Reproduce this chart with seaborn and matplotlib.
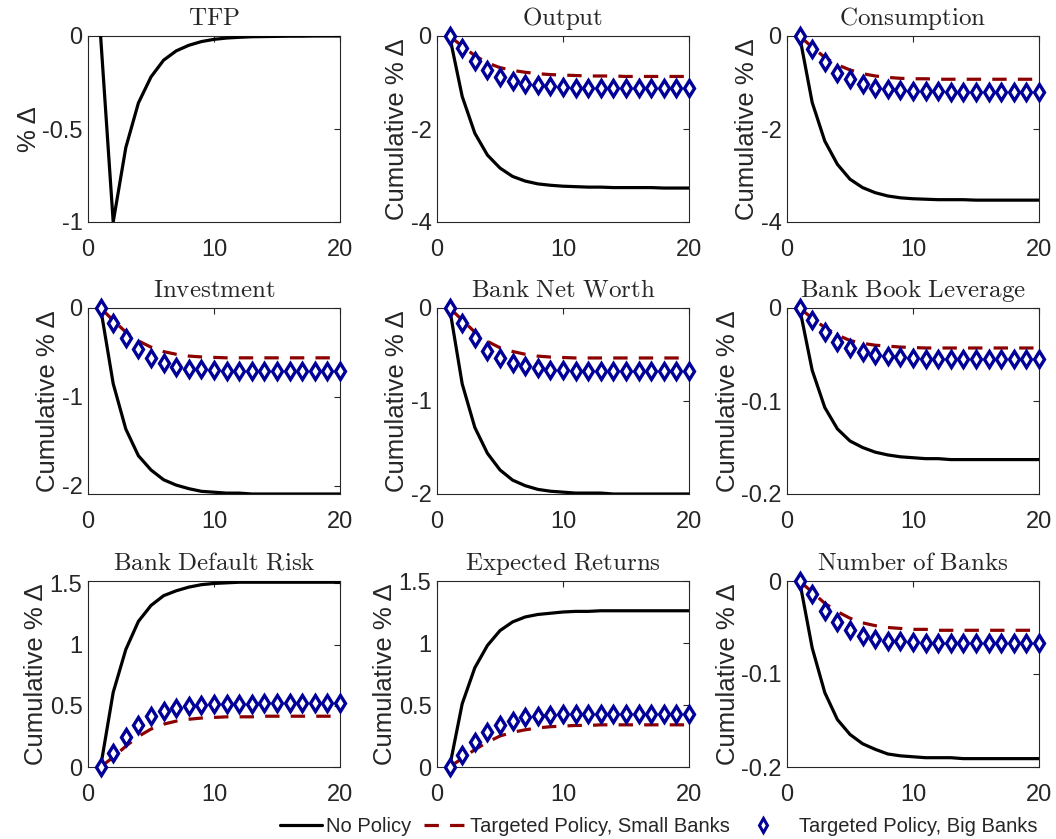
import numpy as np
import pandas as pd
import matplotlib
matplotlib.use("Agg")
import matplotlib.pyplot as plt
import seaborn as sns
from matplotlib.lines import Line2D

# ---- data ----
periods = list(range(1, 21))

tfp_none = [0, -1.0, -0.6, -0.36, -0.22, -0.13, -0.08, -0.05, -0.03, -0.018,
            -0.011, -0.007, -0.004, -0.003, -0.002, -0.001, -0.001, 0, 0, 0]

output_none = [0, -1.30, -2.09, -2.56, -2.84, -3.02, -3.12, -3.18, -3.21, -3.23,
               -3.24, -3.25, -3.25, -3.26, -3.26, -3.26, -3.26, -3.27, -3.27, -3.27]
output_small = [0, -0.22, -0.42, -0.58, -0.68, -0.74, -0.78, -0.81, -0.83, -0.84,
                -0.85, -0.86, -0.86, -0.86, -0.87, -0.87, -0.87, -0.87, -0.87, -0.87]
output_big = [0, -0.26, -0.54, -0.74, -0.89, -0.96, -1.03, -1.06, -1.08, -1.10,
              -1.11, -1.11, -1.11, -1.11, -1.11, -1.11, -1.11, -1.11, -1.11, -1.11]

cons_none = [0, -1.43, -2.26, -2.76, -3.08, -3.26, -3.37, -3.44, -3.48, -3.50,
             -3.51, -3.52, -3.52, -3.52, -3.53, -3.53, -3.53, -3.53, -3.53, -3.53]
cons_small = [0, -0.24, -0.46, -0.62, -0.73, -0.81, -0.86, -0.89, -0.91, -0.92,
              -0.92, -0.93, -0.93, -0.93, -0.93, -0.93, -0.93, -0.93, -0.93, -0.93]
cons_big = [0, -0.27, -0.56, -0.79, -0.93, -1.04, -1.11, -1.15, -1.16, -1.18,
            -1.19, -1.19, -1.20, -1.20, -1.20, -1.20, -1.20, -1.20, -1.20, -1.20]

inv_none = [0, -0.85, -1.36, -1.66, -1.82, -1.93, -1.99, -2.03, -2.06, -2.07,
            -2.08, -2.08, -2.09, -2.09, -2.09, -2.09, -2.09, -2.09, -2.09, -2.09]
inv_small = [0, -0.14, -0.27, -0.37, -0.44, -0.49, -0.52, -0.54, -0.55, -0.555,
             -0.56, -0.56, -0.56, -0.56, -0.56, -0.56, -0.56, -0.56, -0.56, -0.56]
inv_big = [0, -0.17, -0.34, -0.46, -0.56, -0.62, -0.66, -0.68, -0.69, -0.70,
           -0.71, -0.71, -0.71, -0.71, -0.71, -0.71, -0.71, -0.71, -0.71, -0.71]

nw_none = [0, -0.82, -1.29, -1.57, -1.75, -1.86, -1.92, -1.96, -1.98, -1.99,
           -2.0, -2.0, -2.0, -2.01, -2.01, -2.01, -2.01, -2.01, -2.01, -2.01]
nw_small = [0, -0.13, -0.26, -0.36, -0.43, -0.47, -0.50, -0.52, -0.53, -0.535,
            -0.54, -0.54, -0.54, -0.54, -0.54, -0.54, -0.54, -0.54, -0.54, -0.54]
nw_big = [0, -0.16, -0.32, -0.46, -0.54, -0.59, -0.63, -0.65, -0.67, -0.67,
          -0.68, -0.68, -0.68, -0.68, -0.68, -0.68, -0.68, -0.68, -0.68, -0.68]

lev_none = [0, -0.067, -0.107, -0.130, -0.143, -0.150, -0.155, -0.158, -0.160, -0.161,
            -0.162, -0.162, -0.163, -0.163, -0.163, -0.163, -0.163, -0.163, -0.163, -0.163]
lev_small = [0, -0.011, -0.021, -0.029, -0.035, -0.038, -0.040, -0.041, -0.042, -0.0425,
             -0.043, -0.043, -0.043, -0.043, -0.043, -0.043, -0.043, -0.043, -0.043, -0.043]
lev_big = [0, -0.0126, -0.026, -0.037, -0.043, -0.047, -0.050, -0.052, -0.053, -0.054,
           -0.055, -0.055, -0.055, -0.055, -0.055, -0.055, -0.055, -0.055, -0.055, -0.055]

risk_none = [0, 0.61, 0.96, 1.19, 1.32, 1.40, 1.44, 1.47, 1.49, 1.50,
             1.505, 1.51, 1.51, 1.51, 1.51, 1.51, 1.51, 1.51, 1.51, 1.51]
risk_small = [0, 0.08, 0.17, 0.25, 0.31, 0.35, 0.375, 0.39, 0.40, 0.405,
              0.41, 0.41, 0.41, 0.415, 0.415, 0.415, 0.415, 0.415, 0.415, 0.415]
risk_big = [0, 0.115, 0.245, 0.345, 0.415, 0.455, 0.483, 0.497, 0.508, 0.513,
            0.516, 0.518, 0.518, 0.519, 0.519, 0.52, 0.52, 0.52, 0.52, 0.52]

ret_none = [0, 0.51, 0.80, 0.98, 1.10, 1.17, 1.21, 1.23, 1.24, 1.25,
            1.255, 1.255, 1.26, 1.26, 1.26, 1.26, 1.26, 1.26, 1.26, 1.26]
ret_small = [0, 0.07, 0.14, 0.20, 0.25, 0.28, 0.30, 0.315, 0.325, 0.33,
             0.335, 0.335, 0.34, 0.34, 0.34, 0.34, 0.34, 0.34, 0.34, 0.34]
ret_big = [0, 0.094, 0.20, 0.28, 0.34, 0.37, 0.40, 0.41, 0.42, 0.424,
           0.426, 0.426, 0.427, 0.427, 0.428, 0.428, 0.428, 0.43, 0.43, 0.43]

nbank_none = [0, -0.072, -0.120, -0.149, -0.165, -0.175, -0.181, -0.186, -0.188, -0.189,
              -0.190, -0.190, -0.190, -0.191, -0.191, -0.191, -0.191, -0.191, -0.191, -0.191]
nbank_small = [0, -0.012, -0.024, -0.033, -0.040, -0.045, -0.048, -0.050, -0.051, -0.052,
               -0.052, -0.053, -0.053, -0.053, -0.053, -0.053, -0.053, -0.053, -0.053, -0.053]
nbank_big = [0, -0.0144, -0.032, -0.044, -0.053, -0.059, -0.062, -0.064, -0.065, -0.066,
             -0.067, -0.067, -0.067, -0.067, -0.067, -0.067, -0.067, -0.067, -0.067, -0.067]

titles = ["TFP", "Output", "Consumption", "Investment", "Bank Net Worth",
          "Bank Book Leverage", "Bank Default Risk", "Expected Returns", "Number of Banks"]
series = [(tfp_none, None, None), (output_none, output_small, output_big),
          (cons_none, cons_small, cons_big), (inv_none, inv_small, inv_big),
          (nw_none, nw_small, nw_big), (lev_none, lev_small, lev_big),
          (risk_none, risk_small, risk_big), (ret_none, ret_small, ret_big),
          (nbank_none, nbank_small, nbank_big)]
ylims = [(-1, 0), (-4, 0), (-4, 0), (-2.09, 0), (-2.01, 0), (-0.2, 0),
         (0, 1.52), (0, 1.5), (-0.2, 0)]
yticks = [[-1, -0.5, 0], [-4, -2, 0], [-4, -2, 0], [-2, -1, 0], [-2, -1, 0],
          [-0.2, -0.1, 0], [0, 0.5, 1, 1.5], [0, 0.5, 1, 1.5], [-0.2, -0.1, 0]]
legend_labels = ["No Policy", "Targeted Policy, Small Banks", "  Targeted Policy, Big Banks"]

# ---- style ----
sns.set_style("white")
plt.rcParams["font.family"] = ["Liberation Sans", "DejaVu Sans"]
plt.rcParams["mathtext.fontset"] = "cm"

BLACK = "black"
RED = "#8c0000"
BLUE = "#000099"
INK = "#262626"
LW = 2.3

fig = plt.figure(figsize=(10.56, 8.39), dpi=100)

lefts = [88 / 1056, 437 / 1056, 787 / 1056]
bottoms = [1 - 222 / 839, 1 - 494 / 839, 1 - 767 / 839]
w, h = 252 / 1056, 186 / 839

for i, (title, (none, small, big)) in enumerate(zip(titles, series)):
    r, c = divmod(i, 3)
    ax = fig.add_axes([lefts[c], bottoms[r], w, h])
    df = pd.DataFrame({"t": periods, "none": none})
    sns.lineplot(data=df, x="t", y="none", ax=ax, color=BLACK, lw=LW, zorder=3)
    if small is not None:
        df["small"] = small
        df["big"] = big
        sns.lineplot(data=df, x="t", y="small", ax=ax, color=RED, lw=LW,
                     linestyle=(0, (4.5, 3.5)), zorder=4)
        ax.plot(df["t"], df["big"], ls="none", marker="d", ms=8, mfc="white",
                mec=BLUE, mew=2.4, zorder=5, clip_on=False)
    ax.set_xlim(0, 20)
    ax.set_ylim(*ylims[i])
    ax.set_xticks([0, 10, 20])
    ax.set_yticks(yticks[i])
    ax.set_yticklabels([f"{v:g}" for v in yticks[i]])
    ax.set_xlabel("")
    ax.set_ylabel("% \u0394" if i == 0 else "Cumulative % \u0394", fontsize=18.5, color=INK, labelpad=1)
    ax.set_title(r"$\mathrm{" + title.replace(" ", r"\ ") + "}$", fontsize=18, pad=8)
    ax.tick_params(direction="in", length=4, width=0.8, top=True, right=True,
                   labelsize=17, colors=INK, pad=4)
    ax.tick_params(axis="x", pad=12)
    for s in ax.spines.values():
        s.set_color(INK)
        s.set_linewidth(0.8)

handles = [Line2D([], [], color=BLACK, lw=LW),
           Line2D([], [], color=RED, lw=LW, linestyle=(0, (4.5, 3.5))),
           Line2D([], [], ls="none", marker="d", ms=7, mfc="white", mec=BLUE, mew=2.2)]
fig.legend(handles, legend_labels, loc="lower right", bbox_to_anchor=(1.0, -0.018),
           ncol=3, frameon=False, fontsize=14.5, handlelength=2.1, handletextpad=0.2,
           columnspacing=0.6)

fig.savefig("out.png", dpi=100)
